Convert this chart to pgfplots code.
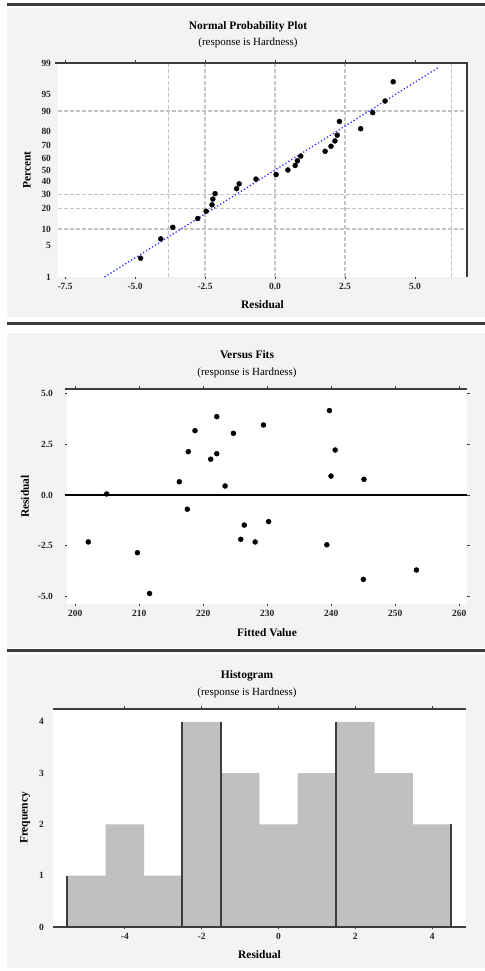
\documentclass[border=0pt]{standalone}
\usepackage{fontspec}
\setmainfont{Liberation Serif}
\usepackage{pgfplots}
\pgfplotsset{compat=1.18}
\definecolor{panelbg}{HTML}{F3F3F3}
\definecolor{frame}{HTML}{3C3C3C}
\definecolor{gridc}{HTML}{C4C4C4}
\definecolor{barc}{HTML}{C0C0C0}
\definecolor{fitc}{HTML}{3030FF}
\newcommand\labfont{\fontsize{11.5}{13}\selectfont\bfseries}
\pgfplotsset{
  resid/.style={
    scale only axis, clip=false,
    axis background/.style={fill=white},
    axis line style={draw=none},
    tick align=outside, major tick length=2.5bp,
    tick style={frame, line width=0.9bp},
    ticklabel style={font=\fontsize{9.5}{10}\selectfont\bfseries, text=black!85},
    /pgf/number format/assume math mode=true,
  }
}
\begin{document}
\begin{tikzpicture}[x=1bp,y=1bp]
\path[use as bounding box] (0,0) rectangle (485,971);
% panel frames
\draw[frame, line width=3bp] (7,966.5) -- (485,966.5);
\fill[panelbg] (7,654) rectangle (485,963);
\draw[frame, line width=3bp] (7,647) -- (485,647);
\fill[panelbg] (7,323) rectangle (485,638);
\draw[frame, line width=3bp] (7,320) -- (485,320);
\fill[panelbg] (7,3) rectangle (485,316);
% titles
\node[font=\fontsize{11.5}{13}\selectfont\bfseries] at (248,944) {Normal Probability Plot};
\node[font=\fontsize{11}{13}\selectfont] at (248,928) {(response is Hardness)};
\node[font=\fontsize{11.5}{13}\selectfont\bfseries] at (247,616) {Versus Fits};
\node[font=\fontsize{11}{13}\selectfont] at (247,598) {(response is Hardness)};
\node[font=\fontsize{11.5}{13}\selectfont\bfseries] at (247,295) {Histogram};
\node[font=\fontsize{11}{13}\selectfont] at (247,278) {(response is Hardness)};

% ---------------- Normal probability plot
\begin{axis}[resid, at={(58bp,694bp)}, anchor=south west, width=409bp, height=214bp,
  xmin=-7.75, xmax=6.857, ymin=-2.326, ymax=2.326,
  xtick={-7.5,-5,-2.5,0,2.5,5}, xticklabels={-7.5,-5.0,-2.5,0.0,2.5,5.0},
  ytick={-2.326,-1.645,-1.2816,-0.8416,-0.5244,-0.2533,0,0.2533,0.5244,0.8416,1.2816,1.645,2.326},
  yticklabels={1,5,10,20,30,40,50,60,70,80,90,95,99},
  ytick style={draw=none},
  yticklabel style={xshift=-1bp},
  extra x ticks={-3.79,-2.5,0,2.5,6.29}, extra x tick labels={},
  extra y ticks={1.2816,-0.5244,-0.8416,-1.2816}, extra y tick labels={},
  extra tick style={grid=major, major tick length=0pt},
  major grid style={gridc, line width=1.2bp, dash pattern=on 3.5bp off 2.5bp},
  xlabel={Residual}, ylabel={Percent},
  every axis x label/.style={at={(axis description cs:0.5,0)}, anchor=center, yshift=-28bp, font=\labfont},
  every axis y label/.style={at={(axis description cs:0,0.5)}, anchor=center, xshift=-31bp, rotate=90, font=\labfont},
]
\addplot[fitc, line width=1.3bp, dash pattern=on 1.3bp off 2.2bp] coordinates {(-6.09,-2.326) (5.85,2.233)};
\addplot[only marks, mark=*, mark size=2.5bp, black] table {
x q
-4.80 -1.918
-4.08 -1.499
-3.65 -1.247
-2.76 -1.055
-2.46 -0.896
-2.25 -0.757
-2.22 -0.632
-2.14 -0.515
-1.37 -0.406
-1.28 -0.301
-0.68 -0.199
0.04 -0.099
0.46 0
0.72 0.099
0.80 0.199
0.92 0.301
1.79 0.406
2.00 0.515
2.14 0.632
2.22 0.757
3.06 0.896
2.30 1.055
3.49 1.247
3.93 1.499
4.22 1.918
};
\draw[frame, line width=2.8bp] (rel axis cs:-0.008,1) -- (rel axis cs:1,1) -- (rel axis cs:1,0);
\end{axis}

% ---------------- Versus fits
\begin{axis}[resid, at={(67bp,367bp)}, anchor=south west, width=400bp, height=215bp,
  xmin=198.7, xmax=261.2, ymin=-5.36, ymax=5.21,
  xtick={200,210,220,230,240,250,260},
  xticklabels={200,210,220,230,240,250,260},
  ytick={-5,-2.5,0,2.5,5}, yticklabels={-5.0,-2.5,0.0,2.5,5.0},
  yticklabel style={xshift=-8bp},
  xlabel={Fitted Value}, ylabel={Residual},
  every axis x label/.style={at={(axis description cs:0.5,0)}, anchor=center, yshift=-29bp, font=\labfont},
  every axis y label/.style={at={(axis description cs:0,0.5)}, anchor=center, xshift=-42bp, rotate=90, font=\labfont},
]
\addplot[black, line width=1.6bp] coordinates {(198.4,0) (261.2,0)};
\addplot[only marks, mark=*, mark size=2.5bp, black] table {
x y
202.03 -2.31
204.9 0.05
209.7 -2.84
211.6 -4.84
216.25 0.65
217.5 -0.70
217.65 2.13
218.7 3.16
221.15 1.76
222.1 2.03
222.1 3.85
223.4 0.44
224.7 3.03
225.85 -2.18
226.4 -1.48
228.1 -2.31
229.4 3.44
230.2 -1.31
239.3 -2.45
239.7 4.15
239.95 0.93
240.6 2.21
245.0 -4.15
245.1 0.77
253.3 -3.69
};
\draw[frame, line width=2.8bp] (rel axis cs:-0.005,1) -- (rel axis cs:1,1);
\end{axis}

% ---------------- Histogram
\begin{axis}[resid, at={(53bp,44bp)}, anchor=south west, width=413bp, height=218bp,
  xmin=-5.87, xmax=4.88, ymin=0, ymax=4.25,
  xtick={-4,-2,0,2,4}, xticklabels={-4,-2,0,2,4},
  ytick={0,1,2,3,4}, yticklabels={0,1,2,3,4},
  ytick style={draw=none},
  yticklabel style={xshift=-3bp},
  xlabel={Residual}, ylabel={Frequency},
  every axis x label/.style={at={(axis description cs:0.5,0)}, anchor=center, yshift=-28bp, font=\labfont},
  every axis y label/.style={at={(axis description cs:0,0.5)}, anchor=center, xshift=-28bp, rotate=90, font=\labfont},
]
\addplot[ybar, bar width=1, bar shift=0pt, fill=barc, draw=none] coordinates {(-5,1) (-4,2) (-3,1) (-2,4) (-1,3) (0,2) (1,3) (2,4) (3,3) (4,2)};
\addplot[ycomb, frame, line width=2bp, mark=none] coordinates {(-5.5,1) (-2.5,4) (-1.5,4) (1.5,4) (4.5,2)};
\draw[frame, line width=2.8bp] (rel axis cs:0,1) -- (rel axis cs:1,1);
\draw[frame, line width=2.8bp] (rel axis cs:0,0) -- (rel axis cs:1,0);
\end{axis}
\end{tikzpicture}
\end{document}
